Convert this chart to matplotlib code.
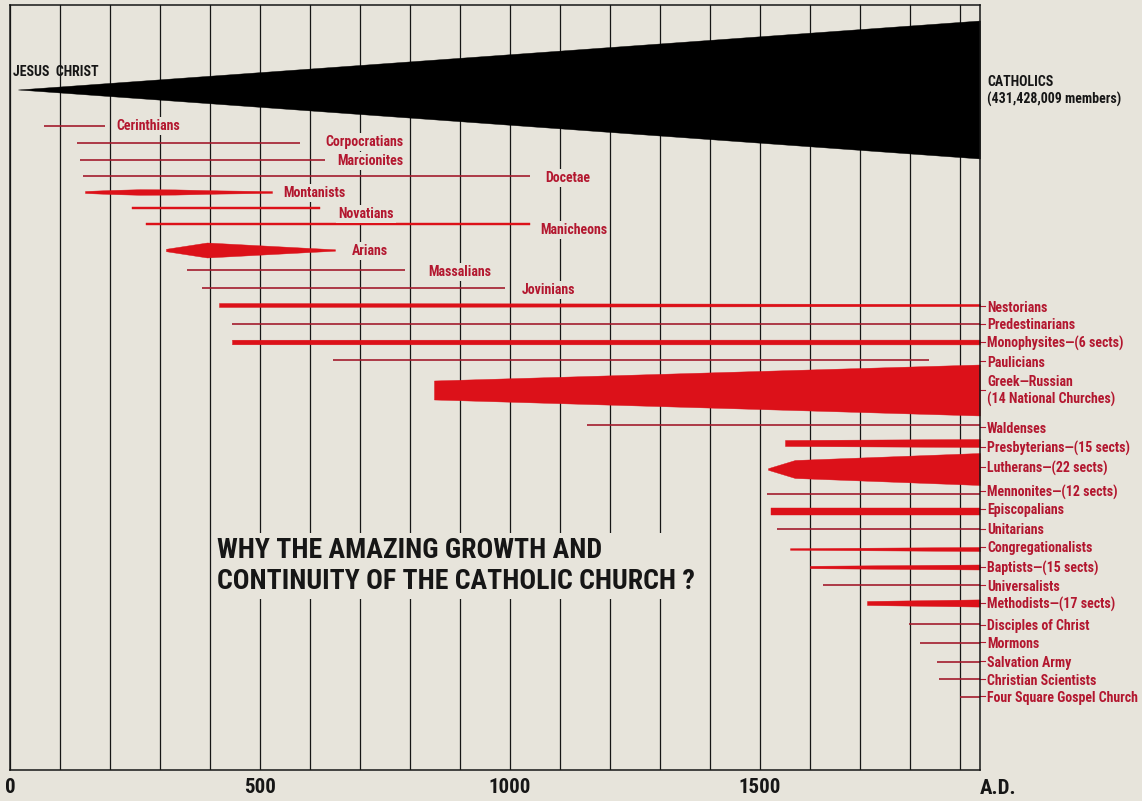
import numpy as np
import matplotlib.pyplot as plt
from matplotlib import font_manager
from matplotlib.ticker import MultipleLocator

# pick a narrow face if there is one, the original uses a condensed gothic
installed = {f.name for f in font_manager.fontManager.ttflist}
FONT = 'DejaVu Sans'
for cand in ['Noto Sans ExtraCondensed', 'Noto Sans Condensed', 'Roboto Condensed',
             'Liberation Sans Narrow', 'DejaVu Sans Condensed']:
    if cand in installed:
        FONT = cand
        break
plt.rcParams['font.family'] = [FONT, 'DejaVu Sans']
plt.rcParams['font.weight'] = 'bold'

BG = '#e7e4db'
THIN = '#a31c2e'
THICK = '#dc1119'
LABEL = '#b3172f'
INK = '#161616'

# Catholic church, from Christ to the present
catholic_years = [16, 1940]
catholic_half = [0, 69]
catholic_row = 89.5

# early sects, label written just after the end of the line
early_names = ['Cerinthians', 'Corpocratians', 'Marcionites', 'Docetae', 'Montanists',
               'Novatians', 'Manicheons', 'Arians', 'Massalians', 'Jovinians']
early_start = [68, 134, 140, 146, 150, 244, 272, 312, 354, 384]
early_end = [190, 580, 630, 1040, 524, 620, 1040, 650, 790, 990]
early_row = [126, 143, 160, 176, 192, 208, 224, 250, 270, 288]
early_half = [0.7, 0.7, 0.7, 0.7, None, 1.0, 1.3, None, 0.6, 0.7]
early_label_at = [212, 630, 654, 1070, 546, 656, 1060, 684, 836, 1024]
early_label_row = [125, 141, 160, 177, 191.5, 212.5, 228.5, 249.5, 271, 288.5]

# outlines that are not straight tapers
montanist_years = [150, 200, 260, 330, 420, 524]
montanist_half = [1.0, 2.0, 2.8, 2.6, 1.6, 0.9]
arian_years = [312, 394, 600, 650]
arian_half = [1.2, 7.5, 2.0, 0.7]
lutheran_years = [1516, 1570, 1940]
lutheran_half = [0.8, 9.0, 16.0]

# bodies still existing, labelled in the right margin
late_names = ['Nestorians', 'Predestinarians', 'Monophysites\u2014(6 sects)', 'Paulicians',
              'Greek\u2014Russian\n(14 National Churches)', 'Waldenses',
              'Presbyterians\u2014(15 sects)', 'Lutherans\u2014(22 sects)',
              'Mennonites\u2014(12 sects)', 'Episcopalians', 'Unitarians',
              'Congregationalists', 'Baptists\u2014(15 sects)', 'Universalists',
              'Methodists\u2014(17 sects)', 'Disciples of Christ', 'Mormons',
              'Salvation Army', 'Christian Scientists', 'Four Square Gospel Church']
late_start = [418, 444, 444, 646, 848, 1154, 1550, 1516, 1514, 1522,
              1534, 1560, 1600, 1626, 1714, 1798, 1820, 1854, 1858, 1900]
late_end = [1940, 1940, 1940, 1838, 1940, 1940, 1940, 1940, 1940, 1940,
            1940, 1940, 1940, 1940, 1940, 1940, 1940, 1940, 1940, 1940]
late_row = [305, 324, 342, 360, 390, 425, 443, 469, 494, 511.5,
            529, 549, 567, 585, 603, 624, 643, 662, 679, 697]
late_half0 = [2.0, 0.7, 2.3, 0.7, 9.5, 0.7, 3.0, None, 0.7, 3.5,
              0.7, 0.8, 1.2, 0.7, 2.0, 0.7, 0.7, 0.7, 0.7, 0.7]
late_half1 = [1.1, 0.7, 2.4, 0.7, 25.5, 0.7, 4.0, None, 0.7, 3.5,
              0.7, 2.0, 2.5, 0.7, 3.6, 0.7, 0.7, 0.7, 0.7, 0.7]
late_label_row = [306.5, 324, 342, 361.5, 390, 427.5, 447.5, 467.5, 491, 509,
                  529, 547, 567, 585.5, 603, 625, 642.5, 661.5, 679.5, 696.5]

year_ticks = [0, 500, 1000, 1500]


def band(ax, years, half, row, color=None):
    years = np.asarray(years, float)
    half = np.asarray(half, float)
    if half.max() <= 0.8:
        ax.plot(years, [row] * len(years), color=color or THIN, lw=1.2,
                solid_capstyle='butt', zorder=2)
    else:
        c = color or THICK
        ax.fill_between(years, row - half, row + half, facecolor=c,
                        edgecolor=c, lw=0.3, zorder=2)


fig = plt.figure(figsize=(11.42, 8.01), dpi=100, facecolor=BG)
ax = fig.add_axes([10 / 1142, 31 / 801, 970 / 1142, 765 / 801], facecolor=BG)
ax.set_xlim(0, 1940)
ax.set_ylim(770, 5)

# century lines
ax.xaxis.set_minor_locator(MultipleLocator(100))
ax.set_xticks(year_ticks)
ax.set_xticklabels([str(y) for y in year_ticks], fontsize=15, fontweight='bold', color=INK)
ax.tick_params(axis='x', which='both', length=0, pad=6)
ax.set_yticks([])
ax.grid(which='both', axis='x', color=INK, lw=0.9, zorder=0)
ax.set_axisbelow(True)
for sp in ax.spines.values():
    sp.set_color(INK)
    sp.set_linewidth(1.1)

# Catholic wedge
band(ax, catholic_years, catholic_half, catholic_row, color='black')
ax.text(6, 72, 'JESUS  CHRIST', fontsize=10, color=INK, ha='left', va='center')
ax.text(1954, 91, 'CATHOLICS\n(431,428,009 members)', fontsize=10, color=INK,
        ha='left', va='center', linespacing=1.3, clip_on=False)

box = dict(boxstyle='square,pad=0.15', fc=BG, ec='none')

for name, s, e, r, h, lx, ly in zip(early_names, early_start, early_end, early_row,
                                    early_half, early_label_at, early_label_row):
    if name == 'Montanists':
        band(ax, montanist_years, montanist_half, r)
    elif name == 'Arians':
        band(ax, arian_years, arian_half, r)
    else:
        band(ax, [s, e], [h, h], r)
    ax.text(lx, ly + 1.4, name, fontsize=10, color=LABEL, ha='left', va='center',
            bbox=box, zorder=3)

for name, s, e, r, h0, h1, ly in zip(late_names, late_start, late_end, late_row,
                                     late_half0, late_half1, late_label_row):
    if name.startswith('Lutherans'):
        band(ax, lutheran_years, lutheran_half, r)
    else:
        band(ax, [s, e], [h0, h1], r)
    ax.plot([1940, 1950], [ly, ly], color=LABEL, lw=0.8, clip_on=False)
    ax.text(1954, ly + 1.4, name, fontsize=10, color=LABEL, ha='left', va='center',
            linespacing=1.25, clip_on=False)

ax.text(414, 566, 'WHY THE AMAZING GROWTH AND\nCONTINUITY OF THE CATHOLIC CHURCH ?',
        fontsize=20, color=INK, ha='left', va='center', linespacing=1.2,
        bbox=dict(boxstyle='square,pad=0.15', fc=BG, ec='none'), zorder=3)

ax.text(1940, 789, 'A.D.', fontsize=15, color=INK, ha='left', va='center', clip_on=False)

fig.savefig('out.png', dpi=100, facecolor=BG)
